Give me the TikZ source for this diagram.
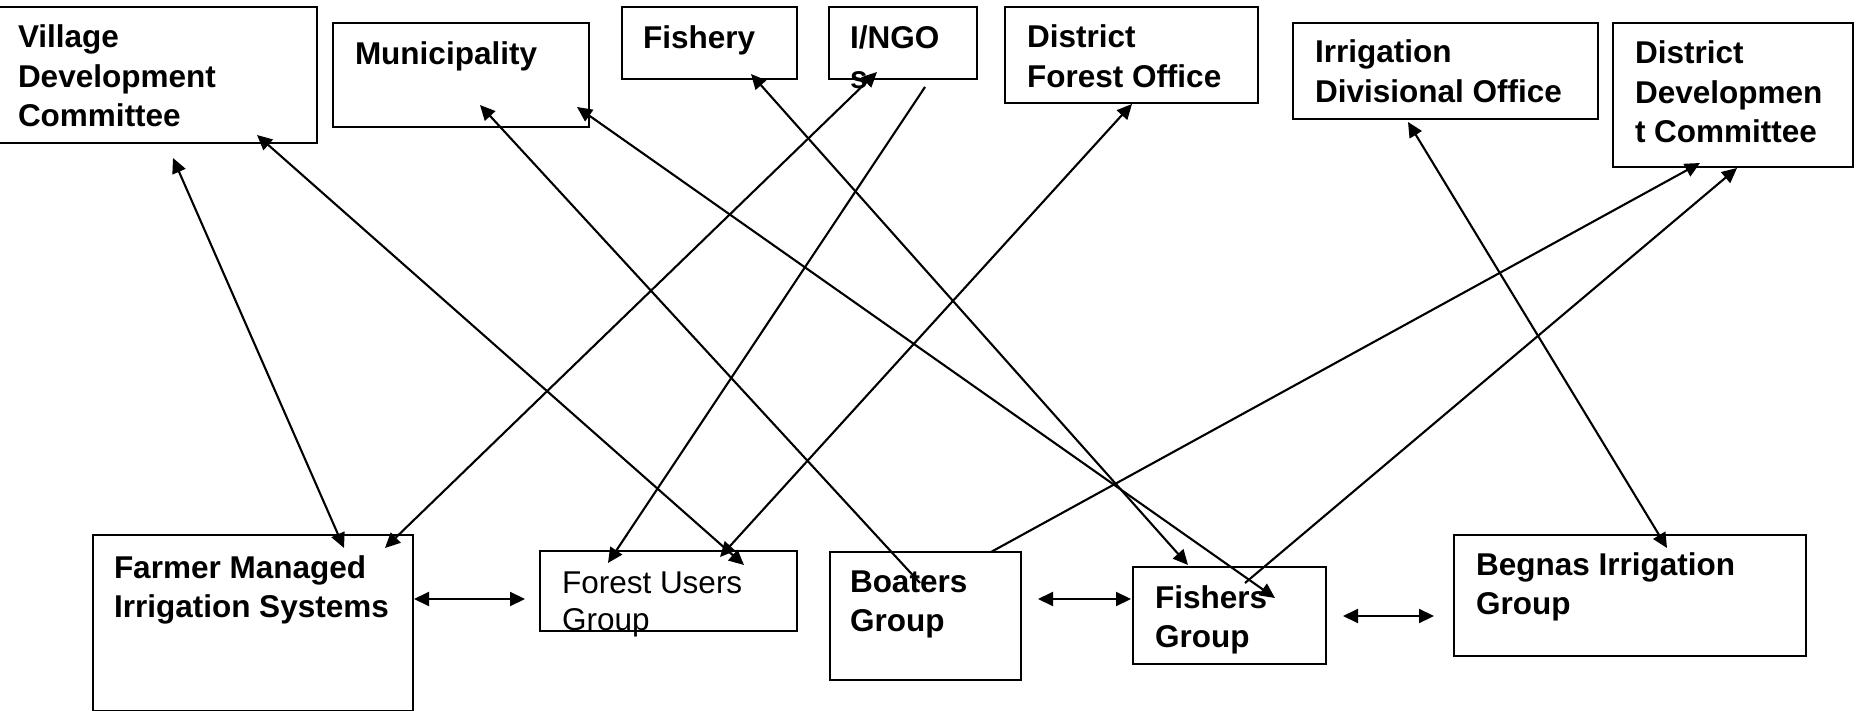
\documentclass[tikz,border=0pt]{standalone}
\usepackage{fontspec}
\setmainfont{Liberation Sans}
\usetikzlibrary{arrows.meta,fit}
\newcommand{\hs}{\rule{0pt}{25pt}}
\begin{document}
\begin{tikzpicture}[x=1pt,y=-1pt,
  box/.style={draw, line width=2.3pt, inner sep=0pt, outer sep=0pt},
  lbl/.style={anchor=north west, inner sep=0pt, outer sep=0pt, align=left, font=\fontsize{31.5}{39.5}\selectfont\bfseries},
  lblr/.style={lbl, font=\fontsize{31.5}{37}\selectfont},
  both/.style={line width=2.1pt, {Triangle[length=15pt,width=14pt]}-{Triangle[length=15pt,width=14pt]}},
  one/.style={line width=2.1pt, -{Triangle[length=15pt,width=14pt]}}
]
\useasboundingbox (0,0) rectangle (1861,711);

% boxes
\node[box, fit={(-1,7) (317,143)}] (vdc) {};
\node[box, fit={(333,23) (589,127)}] (muni) {};
\node[box, fit={(622,7) (797,79)}] (fishery) {};
\node[box, fit={(829,7) (977,79)}] (ingo) {};
\node[box, fit={(1005,7) (1258,103)}] (dfo) {};
\node[box, fit={(1293,23) (1598,119)}] (ido) {};
\node[box, fit={(1613,23) (1853,167)}] (ddc) {};
\node[box, fit={(93,535) (413,711)}] (fmis) {};
\node[box, fit={(540,551) (797,631)}] (fug) {};
\node[box, fit={(830,552) (1021,680)}] (boat) {};
\node[box, fit={(1133,567) (1326,664)}] (fish) {};
\node[box, fit={(1454,535) (1806,656)}] (beg) {};

% labels
\node[lbl] (vdct) at (18,23) {\hs Village\\Development\\Committee};
\node[lbl] (munit) at (355,40) {\hs Municipality};
\node[lbl] (fisheryt) at (643,24) {\hs Fishery};
\node[lbl] (ingot) at (850,24) {\hs I/NGO\\s};
\node[lbl] (dfot) at (1027,23) {\hs District\\Forest Office};
\node[lbl] (idot) at (1315,38) {\hs Irrigation\\Divisional Office};
\node[lbl] (ddct) at (1635,39) {\hs District\\Developmen\\t Committee};
\node[lbl] (fmist) at (114,553) {\hs Farmer Managed\\Irrigation Systems};
\node[lblr] (fugt) at (562,568) {\hs Forest Users\\Group};
\node[lbl] (boatt) at (850,567) {\hs Boaters\\Group};
\node[lbl] (fisht) at (1155,583) {\hs Fishers\\Group};
\node[lbl] (begt) at (1476,550) {\hs Begnas Irrigation\\Group};

% connector end points
\coordinate (vdc-a) at (173,158);
\coordinate (fmis-a) at (344,548);
\coordinate (vdc-b) at (257,135);
\coordinate (fug-a) at (744,565);
\coordinate (muni-a) at (480,105);
\coordinate (boat-a) at (920,583);
\coordinate (muni-b) at (577,107);
\coordinate (fish-a) at (1275,598);
\coordinate (fishery-a) at (751,74);
\coordinate (fish-b) at (1188,565);
\coordinate (ingo-a) at (877,72);
\coordinate (fmis-b) at (385,548);
\coordinate (ingo-b) at (925,87);
\coordinate (fug-b) at (608,563);
\coordinate (dfo-a) at (1132,104);
\coordinate (fug-c) at (720,557);
\coordinate (boat-b) at (991,552);
\coordinate (ddc-a) at (1700,163);
\coordinate (fish-c) at (1245,583);
\coordinate (ddc-b) at (1737,168);
\coordinate (ido-a) at (1408,122);
\coordinate (beg-a) at (1667,548);
\coordinate (fmis-c) at (414,599);
\coordinate (fug-d) at (525,599);
\coordinate (boat-c) at (1038,599);
\coordinate (fish-d) at (1131,599);
\coordinate (fish-e) at (1343,616);
\coordinate (beg-b) at (1434,616);

% connectors
\draw[both] (vdc-a) -- (fmis-a);
\draw[both] (vdc-b) -- (fug-a);
\draw[one] (boat-a) -- (muni-a);
\draw[both] (muni-b) -- (fish-a);
\draw[both] (fishery-a) -- (fish-b);
\draw[both] (ingo-a) -- (fmis-b);
\draw[one] (ingo-b) -- (fug-b);
\draw[both] (dfo-a) -- (fug-c);
\draw[one] (boat-b) -- (ddc-a);
\draw[one] (fish-c) -- (ddc-b);
\draw[both] (ido-a) -- (beg-a);
\draw[both] (fmis-c) -- (fug-d);
\draw[both] (boat-c) -- (fish-d);
\draw[both] (fish-e) -- (beg-b);
\end{tikzpicture}
\end{document}
